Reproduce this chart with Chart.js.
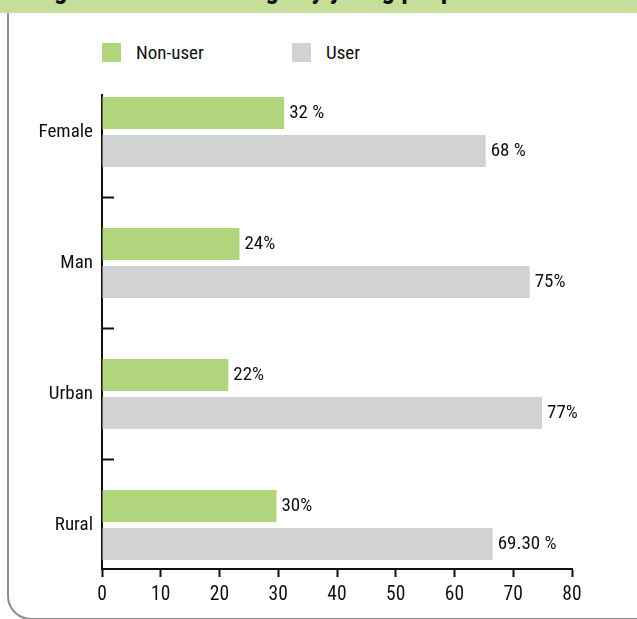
<!DOCTYPE html>
<html>
<head>
<meta charset="utf-8">
<script src="https://cdn.jsdelivr.net/npm/chart.js@4.4.1/dist/chart.umd.min.js"></script>
<style>
    html, body {
        margin: 0;
        padding: 0;
        background: #fff;
    }
    #page {
        position: relative;
        width: 637px;
        height: 619px;
        overflow: hidden;
        font-family: 'Roboto Condensed', 'Liberation Sans Narrow', 'DejaVu Sans Condensed', sans-serif;
    }
    #frame {
        position: absolute;
        left: 7px;
        top: -40px;
        width: 700px;
        height: 660px;
        border: 2px solid #8d8d8d;
        border-radius: 24px;
        box-sizing: border-box;
    }
    #header {
        position: absolute;
        left: 0;
        top: 0;
        width: 637px;
        height: 13px;
        background: #c5df9b;
        overflow: hidden;
    }
    #header span {
        position: absolute;
        left: 34px;
        top: -24px;
        font-size: 27px;
        line-height: 27px;
        font-weight: bold;
        color: #111;
        white-space: nowrap;
    }
    #legend .box {
        position: absolute;
        top: 43px;
        width: 19px;
        height: 19px;
    }
    #legend .text {
        position: absolute;
        top: 41px;
        font-size: 19px;
        line-height: 24px;
        color: #111;
    }
    #chartWrap {
        position: absolute;
        left: 0;
        top: 0;
        width: 637px;
        height: 619px;
    }
</style>
</head>
<body>
<div id="page">
    <div id="frame"></div>
    <div id="header"><span>Figure 4: Internet usage by young people</span></div>
    <div id="legend"></div>
    <div id="chartWrap"><canvas id="usageChart"></canvas></div>
</div>

<script>
// CHART DATA
const categories = ["Female", "Man", "Urban", "Rural"];
const seriesNames = ["Non-user", "User"];
const nonUserValues = [31, 23.4, 21.5, 29.7];
const userValues = [65.3, 72.8, 74.9, 66.5];
const nonUserLabels = ["32 %", "24%", "22%", "30%"];
const userLabels = ["68 %", "75%", "77%", "69.30 %"];
const xTickMin = 0;
const xTickMax = 80;
const xTickStep = 10;

const FONT = "'Roboto Condensed', 'Liberation Sans Narrow', 'DejaVu Sans Condensed', sans-serif";
const GREEN = "#b1d57c";
const GREY = "#d1d2d4";

const labelSets = [nonUserLabels, userLabels];

// Bars are placed on a numeric index axis so the axis can stop short of the band edges
function toPoints(values) {
    return values.map((v, i) => ({ x: v, y: i }));
}

// VALUE LABELS AT BAR ENDS
const valueLabels = {
    id: "valueLabels",
    afterDatasetsDraw(chart) {
        const ctx = chart.ctx;
        ctx.save();
        ctx.font = "19px " + FONT;
        ctx.fillStyle = "#111";
        ctx.textAlign = "left";
        ctx.textBaseline = "middle";
        chart.data.datasets.forEach((ds, i) => {
            chart.getDatasetMeta(i).data.forEach((bar, j) => {
                ctx.fillText(labelSets[i][j], bar.x + 5, bar.y);
            });
        });
        ctx.restore();
    }
};

const ctx = document.getElementById("usageChart");

const chart = new Chart(ctx, {
    type: "bar",
    data: {
        datasets: [
            {
                label: seriesNames[0],
                data: toPoints(nonUserValues),
                backgroundColor: GREEN,
                borderWidth: 0
            },
            {
                label: seriesNames[1],
                data: toPoints(userValues),
                backgroundColor: GREY,
                borderWidth: 0
            }
        ]
    },
    options: {
        indexAxis: "y",
        responsive: true,
        maintainAspectRatio: false,
        animation: false,
        categoryPercentage: 0.58,
        barPercentage: 0.842,
        layout: {
            padding: { top: 95, right: 65, left: 0, bottom: 0 }
        },
        plugins: {
            legend: { display: false },
            tooltip: { enabled: false }
        },
        scales: {
            x: {
                type: "linear",
                min: xTickMin,
                max: xTickMax,
                ticks: {
                    stepSize: xTickStep,
                    color: "#111",
                    padding: 6,
                    font: { family: FONT, size: 19.5 }
                },
                grid: {
                    drawOnChartArea: false,
                    drawTicks: true,
                    tickLength: 8,
                    tickWidth: 2,
                    tickColor: "#111"
                },
                border: {
                    display: true,
                    color: "#111",
                    width: 2
                },
                afterFit(scale) {
                    scale.height = 50;
                }
            },
            y: {
                type: "linear",
                reverse: true,
                offset: false,
                min: -0.282,
                max: 3.336,
                ticks: {
                    stepSize: 1,
                    includeBounds: false,
                    autoSkip: false,
                    color: "#111",
                    padding: 21,
                    font: { family: FONT, size: 19 },
                    callback: v => categories[v] || ""
                },
                grid: {
                    offset: true,
                    drawOnChartArea: false,
                    drawTicks: true,
                    tickLength: -12,
                    tickWidth: 2,
                    tickColor: "#111"
                },
                border: {
                    display: true,
                    color: "#111",
                    width: 2
                },
                afterFit(scale) {
                    scale.width = 102;
                }
            }
        }
    },
    plugins: [valueLabels]
});

// LEGEND (built from the chart's datasets)
const legendBoxX = [102, 292];
const legendEl = document.getElementById("legend");
chart.data.datasets.forEach((ds, i) => {
    const box = document.createElement("div");
    box.className = "box";
    box.style.left = legendBoxX[i] + "px";
    box.style.background = ds.backgroundColor;
    legendEl.appendChild(box);

    const text = document.createElement("div");
    text.className = "text";
    text.style.left = (legendBoxX[i] + 34) + "px";
    text.textContent = ds.label;
    legendEl.appendChild(text);
});
</script>
</body>
</html>
